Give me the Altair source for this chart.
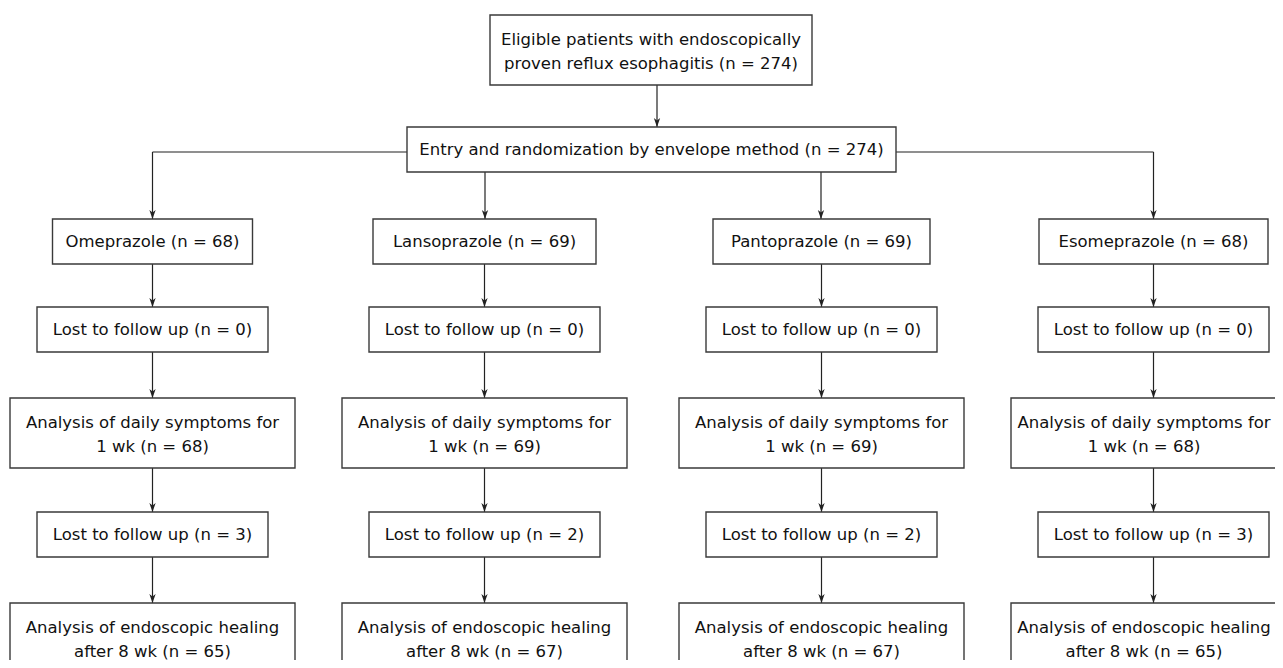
import altair as alt
import pandas as pd

# ---------------- data ----------------
drugs = ["Omeprazole", "Lansoprazole", "Pantoprazole", "Esomeprazole"]
drug_gap = [" ", "  ", " ", " "]
n_randomized = [68, 69, 69, 68]
lost_week1 = [0, 0, 0, 0]
n_week1 = [68, 69, 69, 68]
lost_week8 = [3, 2, 2, 3]
n_week8 = [65, 67, 67, 65]
n_eligible = 274
n_entry = 274

# ---------------- layout (reference pixel coordinates) ----------------
col_center = [152.5, 484.5, 821.5, 1153.5]
row_y = [(219, 264), (307, 352), (398, 468), (512, 557), (603, 677)]
row1_half = [100, 111.5, 108.5, 114.5]
row_half = [None, 115.5, 142.5, 115.5, 142.5]
top_box = (490, 812, 15, 85)
entry_box = (407, 896, 127, 172)
branch_y = 152
LINE_H = 24          # distance between two text lines
TWO_LINE_OFF = 37    # centre of a two-line text block below the box top
VIEW = (8, 1275, 8, 660)   # visible region in reference pixel coordinates
TEXT_HALF_W = 130    # half width of the widest label, keeps edge text inside the view

FONT = "DejaVu Sans"
FS = 16.5
BOX_STROKE = "#3a3a3a"
LINE_COL = "#222222"

# ---------------- build tables ----------------
boxes = []
boxes.append(dict(x1=top_box[0], x2=top_box[1], y1=top_box[2], y2=top_box[3],
                  label=["Eligible patients with endoscopically",
                         f"proven reflux esophagitis (n = {n_eligible})"]))
boxes.append(dict(x1=entry_box[0], x2=entry_box[1], y1=entry_box[2], y2=entry_box[3],
                  label=[f"Entry and randomization by envelope method (n = {n_entry})"]))

for i, c in enumerate(col_center):
    labels = [
        [f"{drugs[i]}{drug_gap[i]}(n = {n_randomized[i]})"],
        [f"Lost to follow up (n = {lost_week1[i]})"],
        ["Analysis of daily symptoms for", f"1 wk (n = {n_week1[i]})"],
        [f"Lost to follow up (n = {lost_week8[i]})"],
        ["Analysis of endoscopic healing", f"after 8 wk (n = {n_week8[i]})"],
    ]
    for r, (y1, y2) in enumerate(row_y):
        h = row1_half[i] if r == 0 else row_half[r]
        boxes.append(dict(x1=c - h, x2=c + h, y1=y1, y2=y2, label=labels[r]))

box_df = pd.DataFrame(boxes)
box_df["xc"] = [
    (x1 + x2) / 2 if x2 <= VIEW[1] else min((x1 + x2) / 2, VIEW[1] - 1 - TEXT_HALF_W)
    for x1, x2 in zip(box_df.x1, box_df.x2)
]
nlines = box_df.label.apply(len)
box_df["yt"] = [
    (y1 + y2) / 2 if n == 1 else y1 + TWO_LINE_OFF - LINE_H / 2
    for y1, y2, n in zip(box_df.y1, box_df.y2, nlines)
]

# vertical arrows
arrows = []
top_arrow_x = 657
arrows.append(dict(x=top_arrow_x, ys=top_box[3], ye=entry_box[2]))
arrows.append(dict(x=col_center[0], ys=branch_y, ye=row_y[0][0]))
arrows.append(dict(x=col_center[3], ys=branch_y, ye=row_y[0][0]))
arrows.append(dict(x=485, ys=entry_box[3], ye=row_y[0][0]))
arrows.append(dict(x=821, ys=entry_box[3], ye=row_y[0][0]))
for c in col_center:
    for r in range(4):
        arrows.append(dict(x=c, ys=row_y[r][1], ye=row_y[r + 1][0]))
arrow_df = pd.DataFrame(arrows)

# horizontal branch lines
hlines = pd.DataFrame([
    dict(x1=col_center[0], x2=entry_box[0], y=branch_y),
    dict(x1=entry_box[1], x2=col_center[3], y=branch_y),
])

# ---------------- scales ----------------
xs = alt.Scale(domain=[VIEW[0], VIEW[1]], nice=False, zero=False)
ys = alt.Scale(domain=[VIEW[2], VIEW[3]], nice=False, zero=False, reverse=True)
X = lambda f: alt.X(f, type="quantitative", scale=xs, axis=None)
Y = lambda f: alt.Y(f, type="quantitative", scale=ys, axis=None)

rects = alt.Chart(box_df).mark_rect(
    fill="white", stroke=BOX_STROKE, strokeWidth=1.4, clip=True
).encode(x=X("x1"), x2="x2", y=Y("y1"), y2="y2")

texts = alt.Chart(box_df).mark_text(
    font=FONT, fontSize=FS, color="#111111", align="center", baseline="middle",
    lineHeight=LINE_H, clip=True
).encode(x=X("xc"), y=Y("yt"), text="label")

hl = alt.Chart(hlines).mark_rule(color="#6a6a6a", strokeWidth=1.4).encode(
    x=X("x1"), x2="x2", y=Y("y"))

vl = alt.Chart(arrow_df).mark_rule(color=LINE_COL, strokeWidth=1.2).encode(
    x=X("x"), y=Y("ys"), y2="ye")

heads = alt.Chart(arrow_df).mark_point(
    shape="M0,1L-0.7,-1L0,-0.45L0.7,-1Z", size=81, filled=True,
    color=LINE_COL, opacity=1, yOffset=-4.5
).encode(x=X("x"), y=Y("ye"))

chart = alt.layer(hl, vl, heads, rects, texts).properties(
    width=VIEW[1] - VIEW[0], height=VIEW[3] - VIEW[2], padding=0,
    autosize=alt.AutoSizeParams(type="none"),
    background="white",
).configure_view(stroke=None)

chart.save("out.html", embed_options={"renderer": "svg", "actions": False})
